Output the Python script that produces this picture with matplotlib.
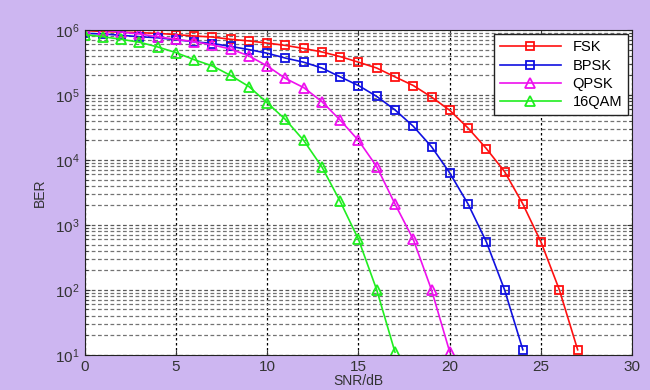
import matplotlib
matplotlib.use('Agg')
import matplotlib.pyplot as plt
from matplotlib.ticker import LogLocator, FixedLocator

plt.rcParams['font.family'] = ['Liberation Sans', 'DejaVu Sans']
plt.rcParams['mathtext.fontset'] = 'custom'
plt.rcParams['mathtext.rm'] = 'Liberation Sans'
plt.rcParams['mathtext.it'] = 'Liberation Sans:italic'
plt.rcParams['mathtext.bf'] = 'Liberation Sans:bold'

# SNR in dB, BER values
snr_fsk = list(range(0, 28))
ber_fsk = [9.8e5, 9.5e5, 9.3e5, 9.1e5, 8.9e5, 8.5e5, 8.1e5, 7.8e5, 7.2e5, 6.8e5,
           6.3e5, 5.8e5, 5.2e5, 4.6e5, 3.9e5, 3.2e5, 2.6e5, 1.9e5, 1.4e5, 9.3e4,
           5.8e4, 3.1e4, 1.5e4, 6.6e3, 2.1e3, 540, 100, 12]

snr_bpsk = list(range(0, 25))
ber_bpsk = [8.9e5, 8.7e5, 8.3e5, 7.9e5, 7.6e5, 7.1e5, 6.6e5, 6.2e5, 5.6e5, 5.0e5,
            4.4e5, 3.7e5, 3.2e5, 2.6e5, 1.9e5, 1.4e5, 9.5e4, 5.9e4, 3.3e4, 1.6e4,
            6.3e3, 2.1e3, 550, 100, 12]

snr_qpsk = list(range(0, 21))
ber_qpsk = [1.05e6, 1.0e6, 9.3e5, 8.7e5, 7.9e5, 7.2e5, 6.6e5, 5.9e5, 5.1e5, 4.0e5,
            2.8e5, 1.8e5, 1.3e5, 7.9e4, 4.1e4, 2.0e4, 7.9e3, 2.1e3, 600, 100, 11]

snr_qam = list(range(0, 18))
ber_qam = [8.5e5, 7.9e5, 7.2e5, 6.5e5, 5.5e5, 4.5e5, 3.5e5, 2.8e5, 2.0e5, 1.35e5,
           7.6e4, 4.2e4, 2.0e4, 7.8e3, 2.3e3, 600, 100, 11]

fig = plt.figure(figsize=(6.5, 3.9), dpi=100, facecolor='#cdb6f1')
ax = fig.add_axes([0.13, 0.09, 0.843, 0.833])
ax.set_facecolor('white')

lw, ms = 1.2, 6
ax.semilogy(snr_fsk, ber_fsk, '-s', color='#ff1010', mfc='none', mew=1.3, lw=lw, ms=ms, label='FSK')
ax.semilogy(snr_bpsk, ber_bpsk, '-s', color='#1010e0', mfc='none', mew=1.3, lw=lw, ms=ms, label='BPSK')
ax.semilogy(snr_qpsk, ber_qpsk, '-^', color='#ee10ee', mfc='none', mew=1.3, lw=lw, ms=ms + 1, label='QPSK')
ax.semilogy(snr_qam, ber_qam, '-^', color='#20ee20', mfc='none', mew=1.3, lw=lw, ms=ms + 1, label='16QAM')

ax.set_xlim(0, 30)
ax.set_ylim(10, 1e6)
ax.xaxis.set_major_locator(FixedLocator(range(0, 31, 5)))
ax.yaxis.set_major_locator(LogLocator(base=10, numticks=10))
ax.yaxis.set_minor_locator(LogLocator(base=10, subs=range(2, 10), numticks=20))

ax.grid(True, which='major', axis='x', color='black', linestyle=(0, (2, 2)), lw=0.9)
ax.grid(True, which='major', axis='y', color='0.35', linestyle=(0, (3, 2)), lw=0.9)
ax.grid(True, which='minor', axis='y', color='0.45', linestyle=(0, (3, 2)), lw=0.9)
ax.set_axisbelow(True)

ax.tick_params(which='both', direction='in', top=True, right=True, labelsize=11, colors='#333333')
ax.tick_params(which='minor', length=2)
for sp in ax.spines.values():
    sp.set_color('#222222')

ax.set_xlabel('SNR/dB', fontsize=10, color='#333333', labelpad=0)
ax.set_ylabel('BER', fontsize=10, color='#333333', labelpad=6)

leg = ax.legend(loc='upper right', fontsize=10.5, fancybox=False, framealpha=1,
                edgecolor='#222222', borderaxespad=0.3, handlelength=4.2,
                labelspacing=0.3, borderpad=0.4)
leg.get_frame().set_linewidth(1.0)

fig.savefig('out.png', dpi=100, facecolor=fig.get_facecolor())
